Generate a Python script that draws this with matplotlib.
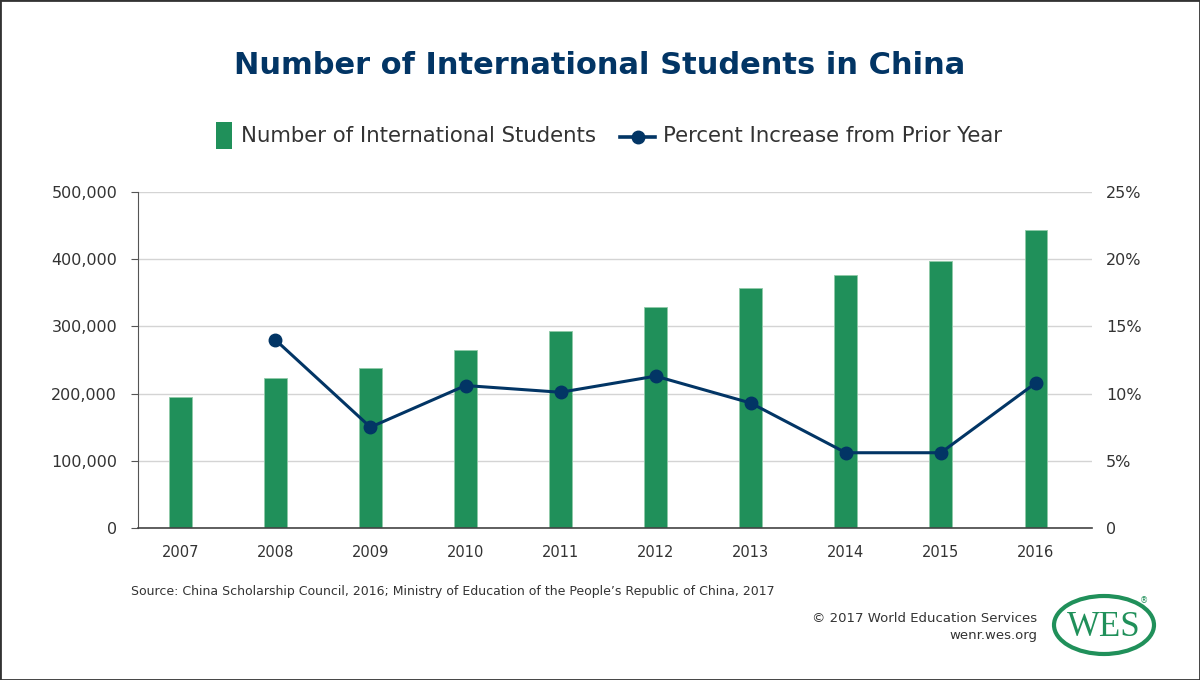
import numpy as np
import matplotlib
matplotlib.use("Agg")
import matplotlib.pyplot as plt
from matplotlib.patches import Ellipse, Rectangle
from matplotlib.lines import Line2D
from matplotlib.ticker import FuncFormatter

years = ["2007", "2008", "2009", "2010", "2011", "2012", "2013", "2014", "2015", "2016"]
students = [195503, 223499, 238184, 265090, 292611, 328330, 356499, 377054, 397635, 442773]
pct_increase = [np.nan, 14.0, 7.5, 10.6, 10.1, 11.3, 9.3, 5.6, 5.6, 10.8]

green = "#20905a"
navy = "#023565"
txt = "#333333"

plt.rcParams['font.family'] = ['DejaVu Sans']

fig = plt.figure(figsize=(12, 6.8), dpi=100)
ax = fig.add_axes([138/1200, 1 - 528/680, (1092 - 138)/1200, (528 - 192)/680])

x = np.arange(len(years))
ax.bar(x, students, width=0.24, color=green, edgecolor="#8fcaa8", linewidth=0.6, zorder=2)
ax.set_xlim(-0.445, 9.59)
ax.set_ylim(0, 500000)
ax.set_yticks(np.arange(0, 500001, 100000))
ax.yaxis.set_major_formatter(FuncFormatter(lambda v, p: "0" if v == 0 else f"{int(v):,}"))
ax.set_xticks(x)
ax.set_xticklabels(years)
ax.grid(axis="y", color="#d4d4d4", linewidth=1, zorder=0)
ax.set_axisbelow(True)
for s in ["top", "right"]:
    ax.spines[s].set_visible(False)
ax.spines["left"].set_color("#555555")
ax.spines["bottom"].set_color("#444444")
ax.spines["bottom"].set_linewidth(1.2)
ax.tick_params(axis="y", length=5, color="#555555", pad=10, labelsize=11.5, labelcolor=txt)
ax.tick_params(axis="x", length=0, pad=12, labelsize=10.5, labelcolor=txt)

ax2 = ax.twinx()
ax2.plot(x, pct_increase, color=navy, linewidth=2.2, marker="o", markersize=9, zorder=3)
ax2.set_ylim(0, 25)
ax2.set_yticks(np.arange(0, 26, 5))
ax2.yaxis.set_major_formatter(FuncFormatter(lambda v, p: "0" if v == 0 else f"{int(v)}%"))
ax2.tick_params(axis="y", length=0, pad=10, labelsize=11.5, labelcolor=txt)
for s in ["top", "right", "left", "bottom"]:
    ax2.spines[s].set_visible(False)

fig.text(0.5, 1 - 66/680, "Number of International Students in China", ha="center", va="center",
         fontsize=22, fontweight="bold", color=navy)

# legend, laid out by hand
ly_leg = 1 - 136.5/680
fig.patches.append(Rectangle((216/1200, 1 - 149/680), 16/1200, 27/680, transform=fig.transFigure,
                             facecolor=green, edgecolor="none"))
fig.text(241/1200, ly_leg, "Number of International Students", ha="left", va="center",
         fontsize=15.3, color=txt)
fig.lines.append(Line2D([620/1200, 655/1200], [ly_leg, ly_leg], transform=fig.transFigure,
                        color=navy, linewidth=2.6))
fig.lines.append(Line2D([637.5/1200], [ly_leg], transform=fig.transFigure, color=navy,
                        marker="o", markersize=9))
fig.text(663/1200, ly_leg, "Percent Increase from Prior Year", ha="left", va="center",
         fontsize=15.3, color=txt)

fig.text(131/1200, 1 - 592/680, "Source: China Scholarship Council, 2016; Ministry of Education of the People\u2019s Republic of China, 2017",
         ha="left", va="center", fontsize=9, color=txt)
fig.text(1037/1200, 1 - 618/680, "\u00a9 2017 World Education Services", ha="right", va="center",
         fontsize=9.5, color=txt)
fig.text(1037/1200, 1 - 635/680, "wenr.wes.org", ha="right", va="center", fontsize=9.5, color=txt)

# WES logo
lx, ly = 1104/1200, 1 - 625/680
fig.patches.append(Ellipse((lx, ly), 100/1200, 58/680, transform=fig.transFigure,
                           fill=False, edgecolor=green, linewidth=3))
fig.text(lx, ly - 0.003, "WES", ha="center", va="center", fontsize=25, color=green,
         family="Liberation Serif")
fig.text(1144/1200, 1 - 601/680, "\u00ae", ha="center", va="center", fontsize=6, color=green)

fig.patches.append(Rectangle((0, 0), 1, 1, transform=fig.transFigure, fill=False,
                             edgecolor="#333333", linewidth=2))

fig.savefig("out.png", dpi=100)
